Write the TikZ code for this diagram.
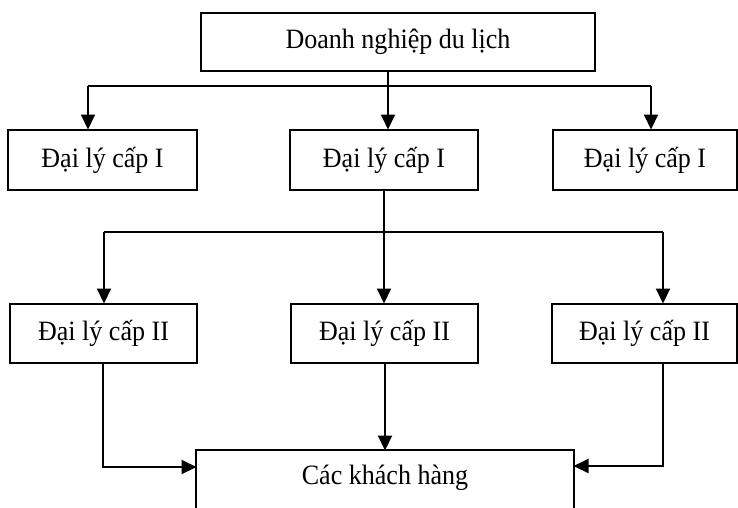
\documentclass[tikz,border=0pt]{standalone}
\usepackage{fontspec}
\setmainfont{Liberation Serif}[FakeStretch=0.93]
\usetikzlibrary{arrows.meta}
\begin{document}
\begin{tikzpicture}[x=1pt,y=-1pt,
  line width=2pt,
  label font/.style={font=\fontsize{28}{32}\selectfont},
  box/.style={draw, rectangle, inner sep=0pt, label font},
  link/.style={line width=2pt},
  arr/.style={link, -{Triangle[length=15pt,width=14pt]}, shorten >=-0.5pt}]
  % page frame
  \useasboundingbox (0,0) rectangle (738,507);
  \clip (0,0) rectangle (738,507);
  \fill[white] (0,0) rectangle (738,507);

  % top level
  \node[box, minimum width=394pt, minimum height=58pt] (top) at (398,42) {Doanh nghiệp du lịch};

  % first-level agents
  \node[box, minimum width=189pt, minimum height=60pt] (l1) at (102.5,160) {Đại lý cấp I};
  \node[box, minimum width=188pt, minimum height=60pt] (m1) at (384,160) {Đại lý cấp I};
  \node[box, minimum width=184pt, minimum height=60pt] (r1) at (645,160) {Đại lý cấp I};

  % second-level agents
  \node[box, minimum width=187pt, minimum height=59pt] (l2) at (103.5,333.5) {Đại lý cấp II};
  \node[box, minimum width=187pt, minimum height=59pt] (m2) at (384.5,333.5) {Đại lý cấp II};
  \node[box, minimum width=185pt, minimum height=59pt] (r2) at (644.5,333.5) {Đại lý cấp II};

  % customers (box runs past the lower edge)
  \node[inner sep=0pt, minimum width=376pt, minimum height=54pt, label font] (c) at (385,478) {Các khách hàng};
  \draw[link] ([yshift=-40pt]c.south west) -- (c.north west) -- (c.north east) -- ([yshift=-40pt]c.south east);

  % distribution bus below the enterprise
  \coordinate (b1L) at (88,86);
  \coordinate (b1M) at (388,86);
  \coordinate (b1R) at (651,86);
  \draw[link] (b1L) -- (b1R);
  \draw[arr] (top.south -| b1M) -- (m1.north -| b1M);
  \draw[arr] (b1L) -- (l1.north -| b1L);
  \draw[arr] (b1R) -- (r1.north -| b1R);

  % distribution bus below the middle first-level agent
  \coordinate (b2L) at (104,232);
  \coordinate (b2M) at (384,232);
  \coordinate (b2R) at (663,232);
  \draw[link] (b2L) -- (b2R);
  \draw[arr] (m1.south -| b2M) -- (m2.north -| b2M);
  \draw[arr] (b2L) -- (l2.north -| b2L);
  \draw[arr] (b2R) -- (r2.north -| b2R);

  % second-level agents to customers
  \coordinate (jL) at (103,467);
  \coordinate (jR) at (663,466);
  \coordinate (jM) at (385,400);
  \draw[arr] (l2.south -| jL) -- (jL) -- (jL -| c.west);
  \draw[arr] (m2.south -| jM) -- (c.north -| jM);
  \draw[arr] (r2.south -| jR) -- (jR) -- (jR -| c.east);
\end{tikzpicture}
\end{document}
